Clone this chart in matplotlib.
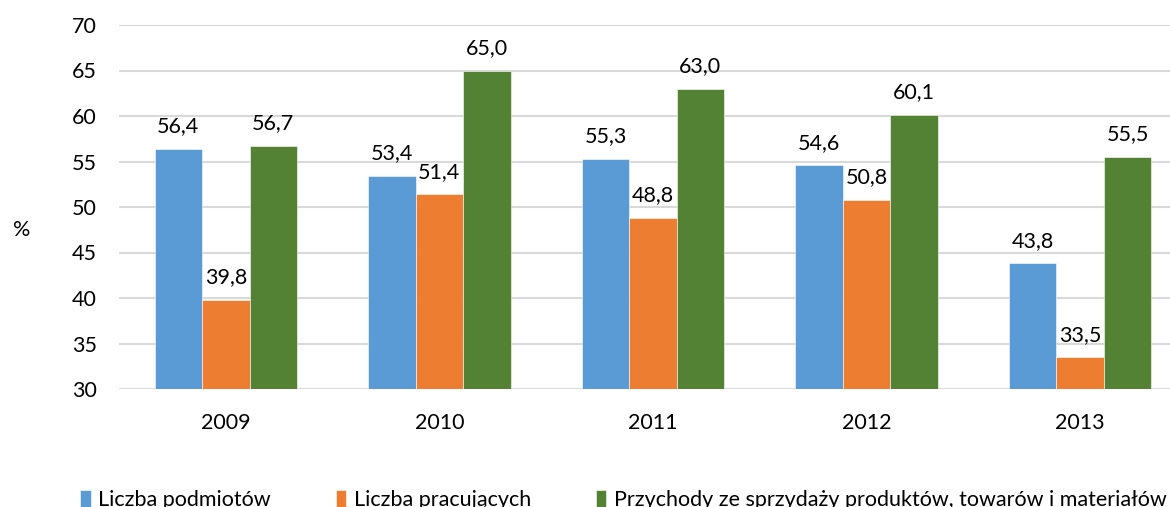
import matplotlib
matplotlib.use("Agg")
import matplotlib.pyplot as plt
import numpy as np

years = ["2009", "2010", "2011", "2012", "2013"]
series_names = ["Liczba podmiotów", "Liczba pracujących",
                "Przychody ze sprzydaży produktów, towarów i materiałów"]
podmioty = [56.4, 53.4, 55.3, 54.6, 43.8]
pracujacy = [39.8, 51.4, 48.8, 50.8, 33.5]
przychody = [56.7, 65.0, 63.0, 60.1, 55.5]
colors = ["#5B9BD5", "#ED7D31", "#548235"]
yticks = [30, 35, 40, 45, 50, 55, 60, 65, 70]

plt.rcParams['font.family'] = ['Lato', 'DejaVu Sans']
FS = 15.5

W, H = 1170, 507
fig = plt.figure(figsize=(W / 100, H / 100), dpi=100)
ax = fig.add_axes([119 / W, 1 - 389 / H, 1068 / W, 364 / H])

x = np.arange(len(years))
bw = 0.222
handles = []
for i, (vals, c, name) in enumerate(zip([podmioty, pracujacy, przychody], colors, series_names)):
    pos = x + (i - 1) * bw
    bars = ax.bar(pos, [v - 30 for v in vals], bottom=30, width=bw, color=c,
                  label=name, zorder=3, edgecolor='white', linewidth=0.4)
    handles.append(bars)
    for p, v in zip(pos, vals):
        ax.annotate(f"{v:.1f}".replace(".", ","), (p, v), xytext=(0, 9),
                    textcoords="offset points", ha="center", va="bottom",
                    fontsize=FS, color="#000000")

ax.set_ylim(30, 70)
ax.set_xlim(-0.5, 4.5)
ax.set_yticks(yticks)
ax.set_yticklabels([str(t) for t in yticks], fontsize=FS)
ax.set_xticks(x)
ax.set_xticklabels(years, fontsize=FS)
ax.tick_params(axis='both', length=0)
ax.tick_params(axis='x', pad=17)
ax.tick_params(axis='y', pad=16)
ax.grid(axis='y', color='#D9D9D9', linewidth=1.5, zorder=0)
for s in ax.spines.values():
    s.set_visible(False)

fig.text(22 / W, 1 - 230 / H, "%", fontsize=FS, ha="center", va="center")

fig.legend(handles=handles, labels=series_names, loc="center left",
           bbox_to_anchor=(80 / W, 1 - 500 / H), ncol=3, frameon=False,
           fontsize=FS, handlelength=0.5, handleheight=0.8, handletextpad=0.35,
           columnspacing=3.0, borderaxespad=0, borderpad=0)

fig.savefig("out.png", dpi=100)
